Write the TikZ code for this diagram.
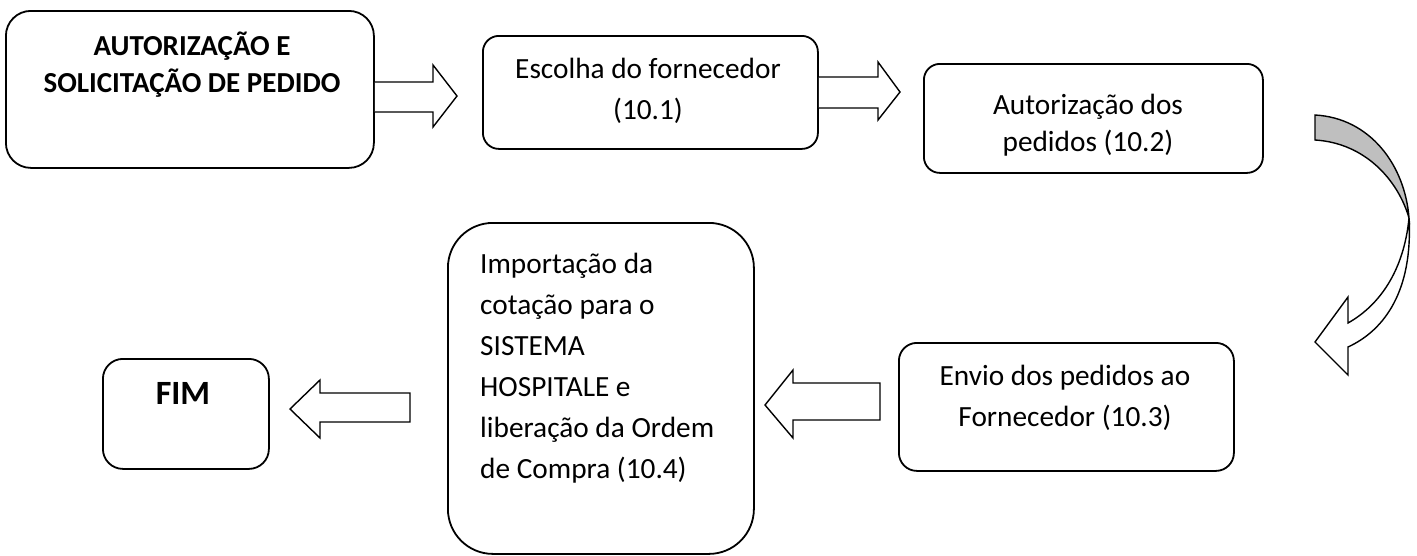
\documentclass[tikz,border=0pt]{standalone}
\usepackage{fontspec}
\setmainfont{Carlito}
\begin{document}
\begin{tikzpicture}[x=1pt,y=-1pt,
  box/.style={draw, line width=1.8pt, rounded corners=#1, anchor=north west, inner sep=0pt},
  txt/.style={align=center, inner sep=0pt, font=\fontsize{29.3}{#1}\selectfont},
  blk/.style={draw, line width=1.4pt, fill=white, line join=miter},
]
\useasboundingbox (0,0) rectangle (1417,555);
% boxes
\node[box=25pt, minimum width=368pt, minimum height=157pt] (b1) at (5,10) {};
\node[box=16pt, minimum width=335pt, minimum height=113pt] (b2) at (482,35) {};
\node[box=16pt, minimum width=339pt, minimum height=109pt] (b3) at (923,63) {};
\node[box=18pt, minimum width=335pt, minimum height=128pt] (b4) at (898,342) {};
\node[box=45pt, minimum width=306pt, minimum height=331pt] (b5) at (447,222) {};
\node[box=20pt, minimum width=166pt, minimum height=110pt] (b6) at (102,358) {};
% texts
\node[txt=37, font=\fontsize{29}{37}\selectfont\bfseries] (t1) at (192,65) {AUTORIZAÇÃO E\\SOLICITAÇÃO DE PEDIDO};
\node[txt=41] (t2) at (648,91) {Escolha do fornecedor\\(10.1)};
\node[txt=37] (t3) at (1088,125) {Autorização dos\\pedidos (10.2)};
\node[txt=41] (t4) at (1065,398) {Envio dos pedidos ao\\Fornecedor (10.3)};
\node[txt=41, align=left, anchor=west] (t5) at (480,368) {Importação da\\cotação para o\\SISTEMA\\HOSPITALE e\\liberação da Ordem\\de Compra (10.4)};
\node[inner sep=0pt, font=\fontsize{34}{40}\selectfont\bfseries] (t6) at (183,393) {FIM};
% block arrows
\draw[blk] (b1.east |- 0,82) -- (433,82) -- (433,65) -- (457,96) -- (433,127) -- (433,112) -- (b1.east |- 0,112);
\draw[blk] (b2.east |- 0,77) -- (878,77) -- (878,62) -- (900,92) -- (878,120) -- (878,108) -- (b2.east |- 0,108);
\draw[blk] (880,383) -- (793,383) -- (793,370) -- (765,405) -- (793,438) -- (793,420) -- (880,420) -- cycle;
\draw[blk] (410,393) -- (320,393) -- (320,380) -- (290,409) -- (320,438) -- (320,422) -- (410,422) -- cycle;
% curved arrow
\coordinate (cx) at (1409,218);
\draw[line width=1.4pt, fill=black!25] (1315,115) .. controls (1370,118) and (1405,165) .. (cx)
  .. controls (1398,180) and (1365,143) .. (1315,140) -- cycle;
\draw[line width=1.4pt, fill=white, line join=miter] (cx) .. controls (1413,290) and (1385,330) .. (1348,347)
  -- (1348,375) -- (1315,342) -- (1348,297) -- (1348,323)
  .. controls (1380,305) and (1404,270) .. (cx);
\end{tikzpicture}
\end{document}
